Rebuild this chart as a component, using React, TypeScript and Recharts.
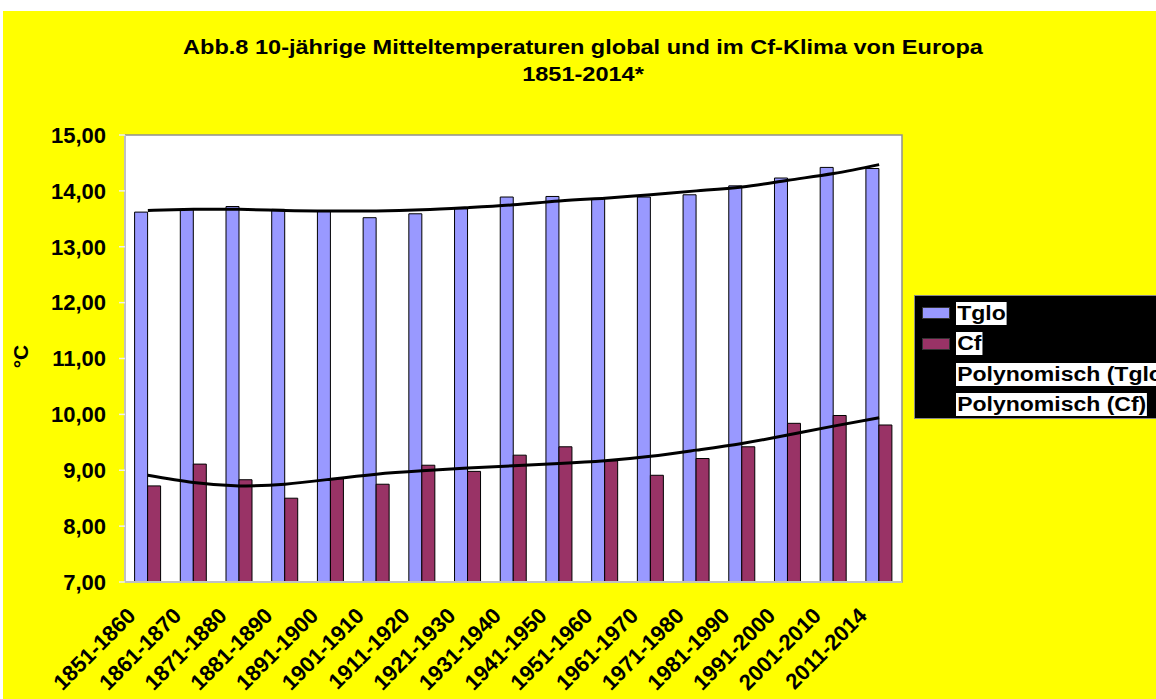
import React from "react";
import {
  ComposedChart,
  Bar,
  Line,
  XAxis,
  YAxis,
  CartesianGrid,
  ReferenceArea,
  Legend,
  Label,
} from "recharts";

const decades = [
  "1851-1860", "1861-1870", "1871-1880", "1881-1890", "1891-1900", "1901-1910",
  "1911-1920", "1921-1930", "1931-1940", "1941-1950", "1951-1960", "1961-1970",
  "1971-1980", "1981-1990", "1991-2000", "2001-2010", "2011-2014",
];

const tglo = [
  13.62, 13.67, 13.72, 13.67, 13.64, 13.52, 13.59, 13.68, 13.89,
  13.9, 13.86, 13.89, 13.93, 14.09, 14.23, 14.42, 14.4,
];

const cf = [
  8.72, 9.11, 8.83, 8.5, 8.85, 8.75, 9.09, 8.98, 9.27,
  9.42, 9.17, 8.91, 9.21, 9.42, 9.84, 9.98, 9.81,
];

// trend curves
const polyTglo = [
  13.65, 13.67, 13.67, 13.65, 13.64, 13.64, 13.66, 13.7, 13.75,
  13.82, 13.87, 13.93, 14.0, 14.07, 14.19, 14.31, 14.47,
];

const polyCf = [
  8.91, 8.78, 8.72, 8.75, 8.84, 8.93, 8.99, 9.04, 9.08,
  9.12, 9.17, 9.25, 9.36, 9.48, 9.63, 9.79, 9.94,
];

const yTicks = [7, 8, 9, 10, 11, 12, 13, 14, 15];
const edgeTicks = decades.map((_, i) => i).concat(decades.length);

const data = decades.map((d, i) => ({
  decade: d,
  Tglo: tglo[i],
  Cf: cf[i],
  pTglo: polyTglo[i],
  pCf: polyCf[i],
}));

const FONT = "'Liberation Sans', Arial, sans-serif";

function XTick(props: any) {
  const { x, y, payload } = props;
  const ax = x - 11;
  const ay = y + 27;
  return (
    <text
      x={ax}
      y={ay}
      transform={`rotate(-45, ${ax}, ${ay})`}
      textAnchor="end"
      fontFamily={FONT}
      fontWeight="bold"
      fontSize={22}
      fill="#000"
    >
      {payload.value}
    </text>
  );
}

function DegLabel(props: any) {
  const { viewBox } = props;
  const cx = 17;
  const cy = viewBox.y + viewBox.height / 2 - 2;
  return (
    <text
      x={cx}
      y={cy}
      transform={`rotate(-90, ${cx}, ${cy})`}
      textAnchor="middle"
      fontFamily={FONT}
      fontWeight="bold"
      fontSize={21}
      fill="#000"
      dominantBaseline="central"
    >
      °C
    </text>
  );
}

const legendRows = [
  { label: "Tglo", color: "#9999FF" },
  { label: "Cf", color: "#993366" },
  { label: "Polynomisch (Tglo)", color: null },
  { label: "Polynomisch (Cf)", color: null },
];

function LegendBox() {
  return (
    <div
      style={{
        background: "#000",
        border: "1px solid #888",
        width: 260,
        height: 124,
        boxSizing: "border-box",
        paddingTop: 2,
      }}
    >
      {legendRows.map((r) => (
        <div
          key={r.label}
          style={{ height: 30.5, display: "flex", alignItems: "center", position: "relative" }}
        >
          <div
            style={{
              width: 28,
              height: 12,
              marginLeft: 7,
              background: r.color || "transparent",
              border: r.color ? "1px solid #333" : "none",
              boxSizing: "border-box",
            }}
          />
          <span
            style={{
              marginLeft: 6,
              background: "#fff",
              color: "#000",
              fontFamily: FONT,
              fontWeight: "bold",
              fontSize: 20,
              lineHeight: "23px",
              whiteSpace: "nowrap",
              display: "inline-block",
              transform: "scaleX(1.15)",
              transformOrigin: "left center",
              padding: "0 1px",
            }}
          >
            {r.label}
          </span>
        </div>
      ))}
    </div>
  );
}

export default function App() {
  return (
    <div
      style={{
        position: "absolute",
        left: 0,
        top: 0,
        width: 1156,
        height: 699,
        overflow: "hidden",
        background: "#fff",
      }}
    >
      <div
        style={{
          position: "absolute",
          left: 3,
          top: 11,
          width: 1153,
          height: 688,
          background: "#FFFF00",
        }}
      >
        <div
          style={{
            position: "absolute",
            left: 0,
            top: 22,
            width: 1160,
            textAlign: "center",
            fontFamily: FONT,
            fontWeight: "bold",
            fontSize: 21,
            lineHeight: "27px",
            color: "#000",
            transform: "scaleX(1.12)",
            transformOrigin: "center",
          }}
        >
          Abb.8 10-jährige Mitteltemperaturen global und im Cf-Klima von Europa
          <br />
          1851-2014*
        </div>
        <ComposedChart
          width={1153}
          height={688}
          data={data}
          margin={{ top: 124, right: 254, bottom: 17, left: 62 }}
          barCategoryGap="21%"
          barGap={0}
          style={{ position: "absolute", left: 0, top: 0 }}
        >
          <CartesianGrid horizontal={false} vertical={false} fill="#fff" />
          <ReferenceArea y1={7} y2={15} fill="none" stroke="#909090" strokeWidth={1.5} />
          <XAxis
            dataKey="decade"
            interval={0}
            height={100}
            tickLine={false}
            axisLine={{ stroke: "#c0c0c0", strokeWidth: 2 }}
            tick={<XTick />}
          />
          <XAxis
            xAxisId="edges"
            type="number"
            domain={[0, decades.length]}
            ticks={edgeTicks}
            tick={false}
            height={0}
            axisLine={false}
            tickLine={{ stroke: "#f0f0f0", strokeWidth: 1.5 }}
            tickSize={7}
            allowDataOverflow
          />
          <YAxis
            domain={[7, 15]}
            ticks={yTicks}
            width={60}
            interval={0}
            tickFormatter={(v: number) => v.toFixed(2).replace(".", ",")}
            tick={{ fontFamily: FONT, fontWeight: "bold", fontSize: 22, fill: "#000" }}
            tickLine={{ stroke: "#f0f0f0", strokeWidth: 1.5 }}
            tickSize={6}
            tickMargin={13}
            axisLine={{ stroke: "#c0c0c0", strokeWidth: 2 }}
          >
            <Label content={<DegLabel />} />
          </YAxis>
          <Bar dataKey="Tglo" fill="#9999FF" stroke="#000" strokeWidth={1} isAnimationActive={false} />
          <Bar dataKey="Cf" fill="#993366" stroke="#000" strokeWidth={1} isAnimationActive={false} />
          <Line
            dataKey="pTglo"
            type="natural"
            stroke="#000"
            strokeWidth={3}
            dot={false}
            isAnimationActive={false}
          />
          <Line
            dataKey="pCf"
            type="natural"
            stroke="#000"
            strokeWidth={3}
            dot={false}
            isAnimationActive={false}
          />
          <Legend
            layout="horizontal"
            verticalAlign="middle"
            align="center"
            content={<LegendBox />}
            wrapperStyle={{ position: "absolute", left: 911, top: 284, width: 260 }}
          />
        </ComposedChart>
      </div>
    </div>
  );
}
